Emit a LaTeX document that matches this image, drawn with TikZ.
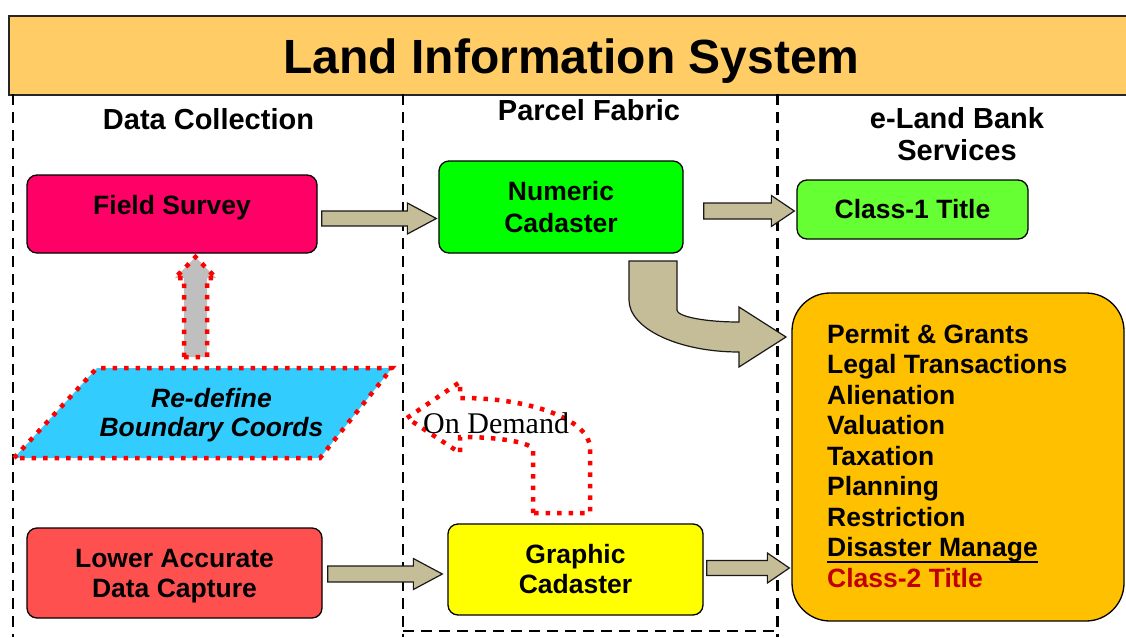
\documentclass[tikz,border=0pt]{standalone}
\usepackage{fontspec}
\setmainfont{Liberation Sans}
\newfontfamily\timesfont{Liberation Serif}
\usetikzlibrary{calc}

\definecolor{hdrfill}{HTML}{FFCC66}
\definecolor{fieldfill}{HTML}{FF0066}
\definecolor{numfill}{HTML}{00FF00}
\definecolor{titlefill}{HTML}{66FF33}
\definecolor{svcfill}{HTML}{FFC000}
\definecolor{lowfill}{HTML}{FF5050}
\definecolor{graphfill}{HTML}{FFFF00}
\definecolor{cyanfill}{HTML}{33CCFF}
\definecolor{tanfill}{HTML}{C4BD97}
\definecolor{dotred}{HTML}{FF0000}
\definecolor{classred}{HTML}{C00000}

\tikzset{
  box/.style={draw=black, line width=1.3pt, rounded corners=10pt, align=center,
    font=\bfseries\fontsize{26.5}{31}\selectfont, inner sep=0pt},
  colhead/.style={font=\bfseries\fontsize{29}{32}\selectfont, align=center, inner sep=0pt},
  divider/.style={line width=2.6pt, dash pattern=on 11pt off 7pt},
  blockarr/.style={fill=tanfill, draw=black!90, line width=1.2pt, line join=miter},
  reddots/.style={draw=dotred, line width=4.5pt, dash pattern=on 4.5pt off 7pt},
  svc/.style={anchor=base west, inner sep=0pt, font=\bfseries\fontsize{26.5}{30}\selectfont},
}

% straight block arrow: tail point, tip point (only its x is used),
% head length, half shaft width, half head width
\newcommand\flatarrow[5]{%
  \path[blockarr] let \p1=(#1), \p2=(#2) in
    (\x1,\y1+#4) -- (\x2-#3,\y1+#4) -- (\x2-#3,\y1+#5) -- (\x2,\y1)
    -- (\x2-#3,\y1-#5) -- (\x2-#3,\y1-#4) -- (\x1,\y1-#4) -- cycle;}

\begin{document}
\begin{tikzpicture}[x=1pt, y=-1pt]
\useasboundingbox (0,0) rectangle (1126,637);

% header band
\node[draw=black!85, line width=1.5pt, fill=hdrfill, anchor=north west,
      minimum width=1121pt, minimum height=79pt, inner sep=0pt] (hdr) at (8,15) {};
\node[anchor=base, inner sep=0pt, font=\bfseries\fontsize{48}{52}\selectfont] (title)
  at (571.5,73) {Land Information System};

% column dividers
\draw[divider] (13,94) -- (13,637);
\draw[divider] (403,94) -- (403,637);
\draw[divider] (403,631) -- (777,631);
\draw[divider, line width=3pt] (777,94) -- (777,637);

% column headings
\node[colhead, anchor=base] (h1) at (208.5,129) {Data Collection};
\node[colhead, anchor=base] (h2) at (589,120) {Parcel Fabric};
\node[colhead] (h3) at (957,134) {e-Land Bank\\Services};

% boxes
\node[box, fill=fieldfill, minimum width=290pt, minimum height=78pt, text depth=19pt]
  (fs) at (172,214) {Field Survey};
\node[box, fill=numfill, minimum width=244pt, minimum height=92pt, font=\bfseries\fontsize{26.5}{32}\selectfont]
  (nc) at (561,207) {Numeric\\Cadaster};
\node[box, fill=titlefill, minimum width=231pt, minimum height=59pt]
  (c1) at (912.5,209.5) {Class-1 Title};
\node[box, fill=lowfill, minimum width=295pt, minimum height=90pt, text depth=0pt,
      font=\bfseries\fontsize{26.5}{30}\selectfont]
  (lac) at (174.5,573) {Lower Accurate\\Data Capture};
\node[box, fill=graphfill, minimum width=255pt, minimum height=91pt, font=\bfseries\fontsize{26.5}{30}\selectfont]
  (gc) at (575.5,569.5) {Graphic\\Cadaster};
\node[box, fill=svcfill, rounded corners=38pt, minimum width=332pt, minimum height=328pt]
  (svcbox) at (958,457) {};

% service list
\foreach \t [count=\i from 0] in {Permit \& Grants, Legal Transactions, Alienation,
    Valuation, Taxation, Planning, Restriction}
  \node[svc] (svc\i) at (827,{343+30.5*\i}) {\t};
\node[svc] (svc7) at (827,556.5) {Disaster Manage};
\draw[line width=2.4pt] ([yshift=-5.5pt]svc7.base west) -- ([yshift=-5.5pt]svc7.base east);
\node[svc, text=classred] (svc8) at (827,587) {Class-2 Title};

% re-define parallelogram
\path[fill=cyanfill] (14,458) -- (97,368) -- (392,368) -- (320,458) -- cycle;
\draw[reddots] (14,458) -- (97,368) -- (392,368) -- (320,458) -- cycle;
\node[align=center, inner sep=0pt, font=\bfseries\itshape\fontsize{26.5}{29}\selectfont]
  (rd) at (211.5,415.5) {Re-define\\Boundary Coords};

% up arrow towards field survey
\path[fill=black!25] (184,357) -- (184,278) -- (175,278) -- (195.5,257) -- (216,278) -- (207,278) -- (207,357) -- cycle;
\draw[reddots] (184,357) -- (184,278) -- (175,278) -- (195.5,257) -- (216,278) -- (207,278) -- (207,357) -- cycle;

% straight block arrows
\flatarrow{[shift={(4,4.5)}]fs.east}{[xshift=-2pt]nc.west}{29pt}{7.5pt}{15.5pt}
\flatarrow{[shift={(20,4)}]nc.east}{[xshift=-2pt]c1.west}{23pt}{8pt}{15.5pt}
\flatarrow{[shift={(5,1)}]lac.east}{[xshift=-5pt]gc.west}{29pt}{8pt}{15.5pt}
\flatarrow{[shift={(3,-1.5)}]gc.east}{[xshift=-2pt]svcbox.west}{22pt}{7.5pt}{15pt}

% bent arrow from numeric cadaster into the services box
\path[blockarr] (629,261) -- (677,261) -- (677,310)
  .. controls (677,316.6) and (705,322) .. (739,322)
  -- (739,307) -- (786,337) -- (739,367) -- (739,352)
  .. controls (678.5,352) and (629,328.6) .. (629,300) -- cycle;

% on demand u-turn arrow
\draw[reddots] (533,513) -- (533,450)
  .. controls (533,443) and (501,437) .. (462,437)
  -- (460,437) -- (460,453) -- (407,418) -- (460,382) -- (460,398) -- (462,398)
  .. controls (532,398) and (590,420.5) .. (590,448)
  -- (590,513) -- cycle;
\node[anchor=base west, inner sep=0pt, font=\timesfont\fontsize{30}{32}\selectfont]
  (od) at (423,433) {On Demand};
\end{tikzpicture}
\end{document}
